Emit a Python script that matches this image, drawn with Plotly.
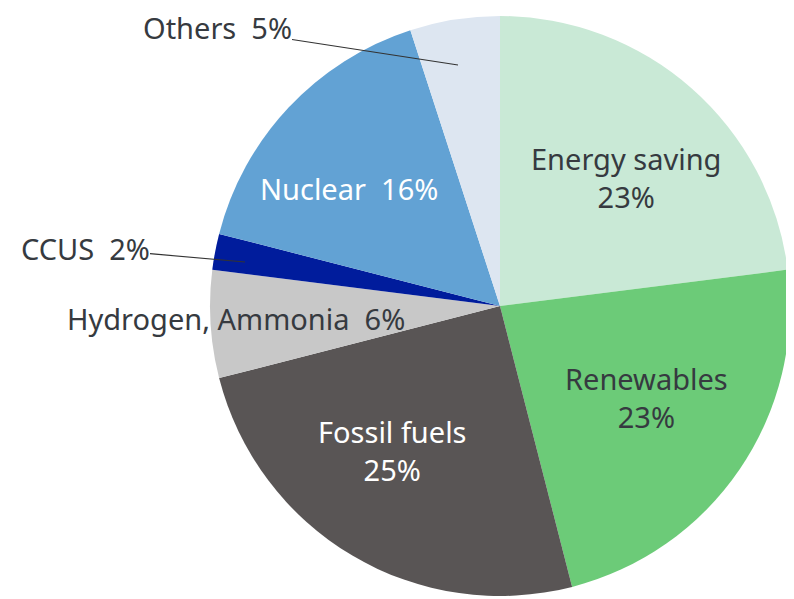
import plotly.graph_objects as go

labels = ["Energy saving", "Renewables", "Fossil fuels", "Hydrogen, Ammonia", "CCUS", "Nuclear", "Others"]
values = [23, 23, 25, 6, 2, 16, 5]
colors = ["#c9e9d6", "#6ccb78", "#595555", "#c8c8c8", "#001c9c", "#62a2d4", "#dde6f1"]

W, H = 794, 599
OX, OY = 8, 8  # page body offset

def px(x, y):
    return (x - OX) / W, 1 - (y - OY) / H

x0, _ = px(210, 0)
x1, _ = px(790, 0)
_, y0 = px(0, 597)
_, y1 = px(0, 15)

fig = go.Figure(go.Pie(
    labels=labels, values=values, sort=False, direction="clockwise", rotation=0,
    marker=dict(colors=colors, line=dict(width=0)),
    textinfo="none", hoverinfo="label+percent",
    domain=dict(x=[x0, x1], y=[y0, y1]),
    showlegend=False,
))

FONT = "Noto Sans"
SIZE = 29
dark = "#363a40"

inside = [
    ("Energy saving<br>23%", 626, 178, dark),
    ("Renewables<br>23%", 646, 398, dark),
    ("Fossil fuels<br>25%", 392, 450, "white"),
    ("Nuclear  16%", 349, 188, "white"),
    ("Hydrogen, Ammonia  6%", 236, 318, dark),
]
anns = []
for t, x, y, c in inside:
    xx, yy = px(x, y)
    anns.append(dict(text=t, x=xx, y=yy, xref="paper", yref="paper", showarrow=False,
                     xanchor="center", yanchor="middle",
                     font=dict(family=FONT, size=SIZE, color=c), align="center"))

lead = [
    ("Others  5%", 217, 28, 458, 65),
    ("CCUS  2%", 85, 248, 245, 262),
]
for t, tx, ty, hx, hy in lead:
    xx, yy = px(hx, hy)
    anns.append(dict(text=t, x=xx, y=yy, xref="paper", yref="paper", showarrow=True,
                     ax=tx - hx, ay=ty - hy, arrowhead=0, arrowwidth=1.2, arrowcolor="#333333",
                     xanchor="center", yanchor="middle", borderpad=0,
                     font=dict(family=FONT, size=SIZE, color=dark)))

fig.update_layout(width=W, height=H, margin=dict(l=0, r=0, t=0, b=0),
                  paper_bgcolor="white", plot_bgcolor="white", annotations=anns)
fig.write_html("out.html")
